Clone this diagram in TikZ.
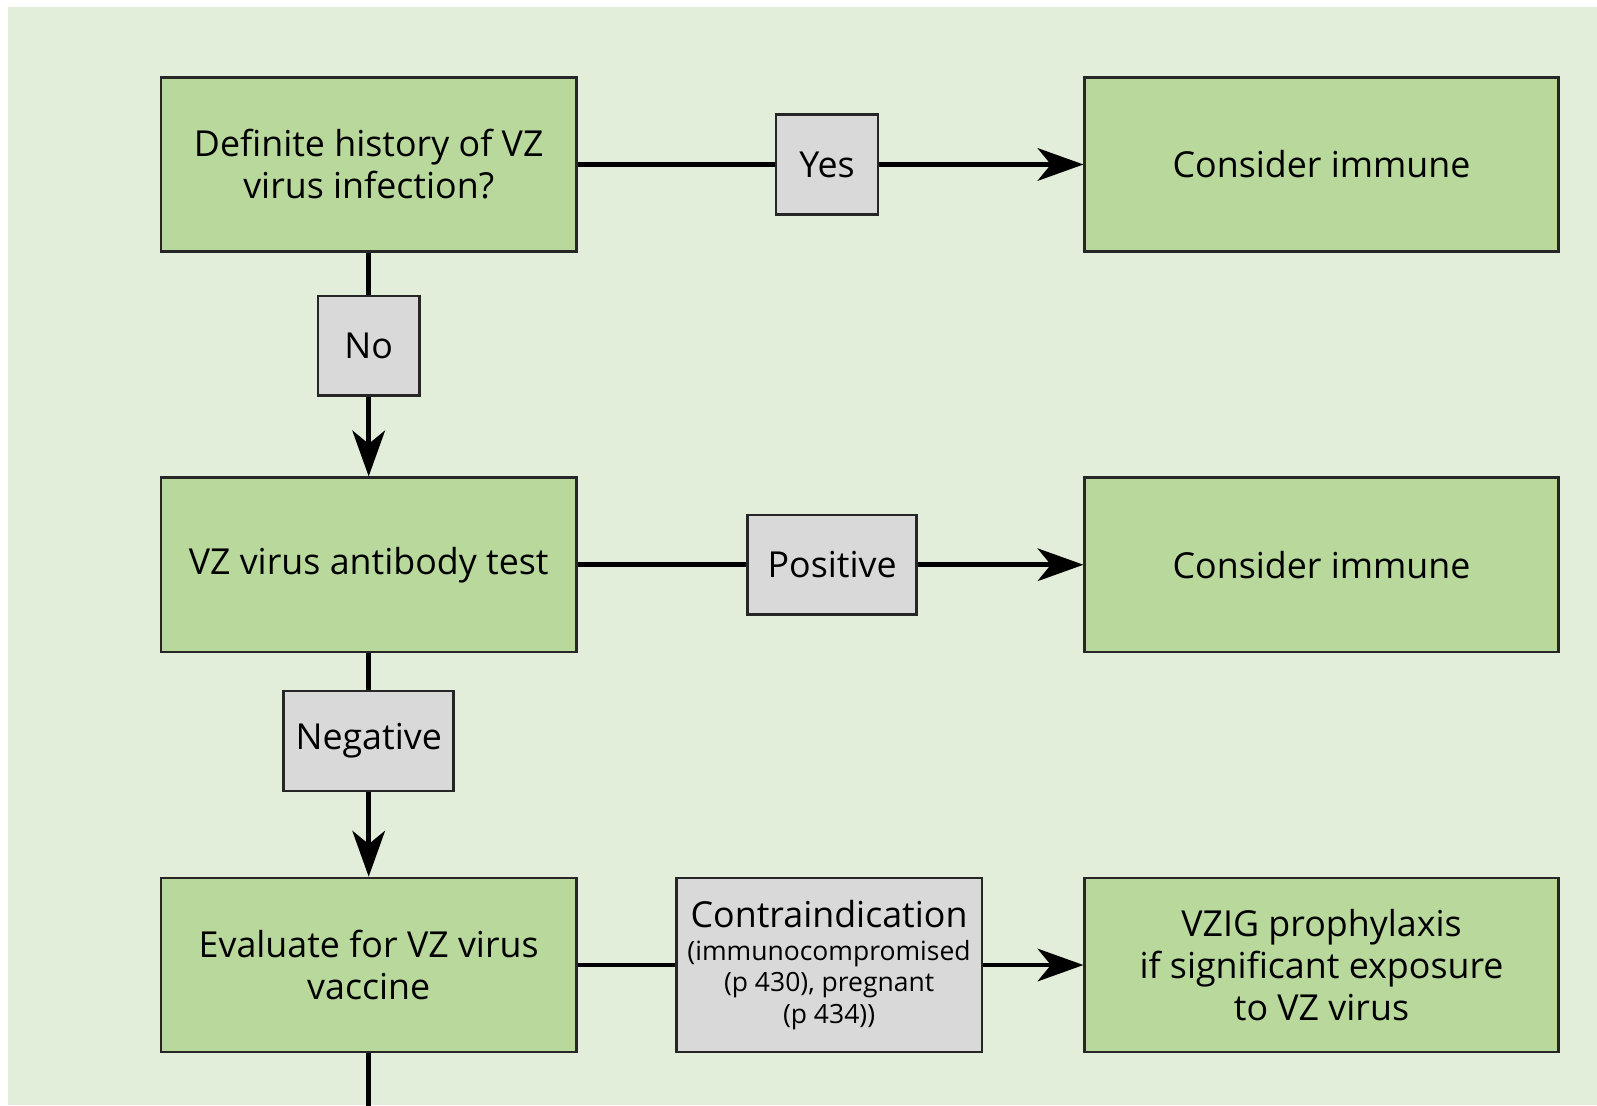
\documentclass[tikz,border=0pt]{standalone}
\usepackage{fontspec}
\setmainfont{Open Sans}
\usetikzlibrary{positioning,arrows.meta}

\definecolor{bgcol}{HTML}{E2EED9}
\definecolor{boxgreen}{HTML}{B9D89C}
\definecolor{labgray}{HTML}{D9D9D9}

\begin{document}
\begin{tikzpicture}
	[>={Stealth[length=4.5mm,width=3.2mm,inset=1.3mm]}, node distance=3.93cm, on grid,
	box/.style={draw=black!85,line width=0.7pt,fill=boxgreen,minimum width=4.08cm,
		minimum height=1.71cm,align=center,font=\fontsize{10}{11.7}\selectfont},
	widebox/.style={box,minimum width=4.65cm},
	lab/.style={draw=black!85,line width=0.7pt,fill=labgray,minimum height=0.98cm,
		inner sep=0pt,align=center,font=\fontsize{10}{11.7}\selectfont},
	link/.style={line width=1.3pt}]
\useasboundingbox (0,0) rectangle (15.68,10.85);
\fill[bgcol] (0.08,0) rectangle (15.68,10.78);

\node[box](hist) at (3.62,9.235) {Definite history of VZ\\virus infection?};
\node[box](test)[below = of hist]{VZ virus antibody test};
\node[box](eval)[below = of test]{Evaluate for VZ virus\\vaccine};
\node[widebox](imm_1)[right = 9.355cm of hist]{Consider immune};
\node[widebox](imm_2)[right = 9.355cm of test]{Consider immune};
\node[widebox](vzig)[right = 9.355cm of eval]{VZIG prophylaxis\\if significant exposure\\to VZ virus};

\node[lab,minimum width=1cm](yes)[right = 4.5cm of hist]{Yes};
\node[lab,minimum width=1.66cm](pos)[right = 4.55cm of test]{Positive};
\node[lab,minimum width=3cm,minimum height=1.71cm](contra)[right = 4.52cm of eval]
	{Contraindication\\[-2.5pt]{\fontsize{7.4}{8.8}\selectfont (immunocompromised}\\[-3pt]
	{\fontsize{7.4}{8.8}\selectfont (p 430), pregnant}\\[-3pt]{\fontsize{7.4}{8.8}\selectfont (p 434))}};
\node[lab,minimum width=1cm](no)[below = 1.78cm of hist]{No};
\node[lab,minimum width=1.67cm](neg)[below = 1.73cm of test]{Negative};
\coordinate[below = 0.56cm of eval.south](down);

\draw[link] (hist) -- (yes);
\draw[link,->] (yes) -- (imm_1);
\draw[link] (test) -- (pos);
\draw[link,->] (pos) -- (imm_2);
\draw[link] (eval) -- (contra);
\draw[link,->] (contra) -- (vzig);
\draw[link] (hist) -- (no);
\draw[link,->] (no) -- (test);
\draw[link] (test) -- (neg);
\draw[link,->] (neg) -- (eval);
\draw[link] (eval) -- (down);
\end{tikzpicture}
\end{document}
